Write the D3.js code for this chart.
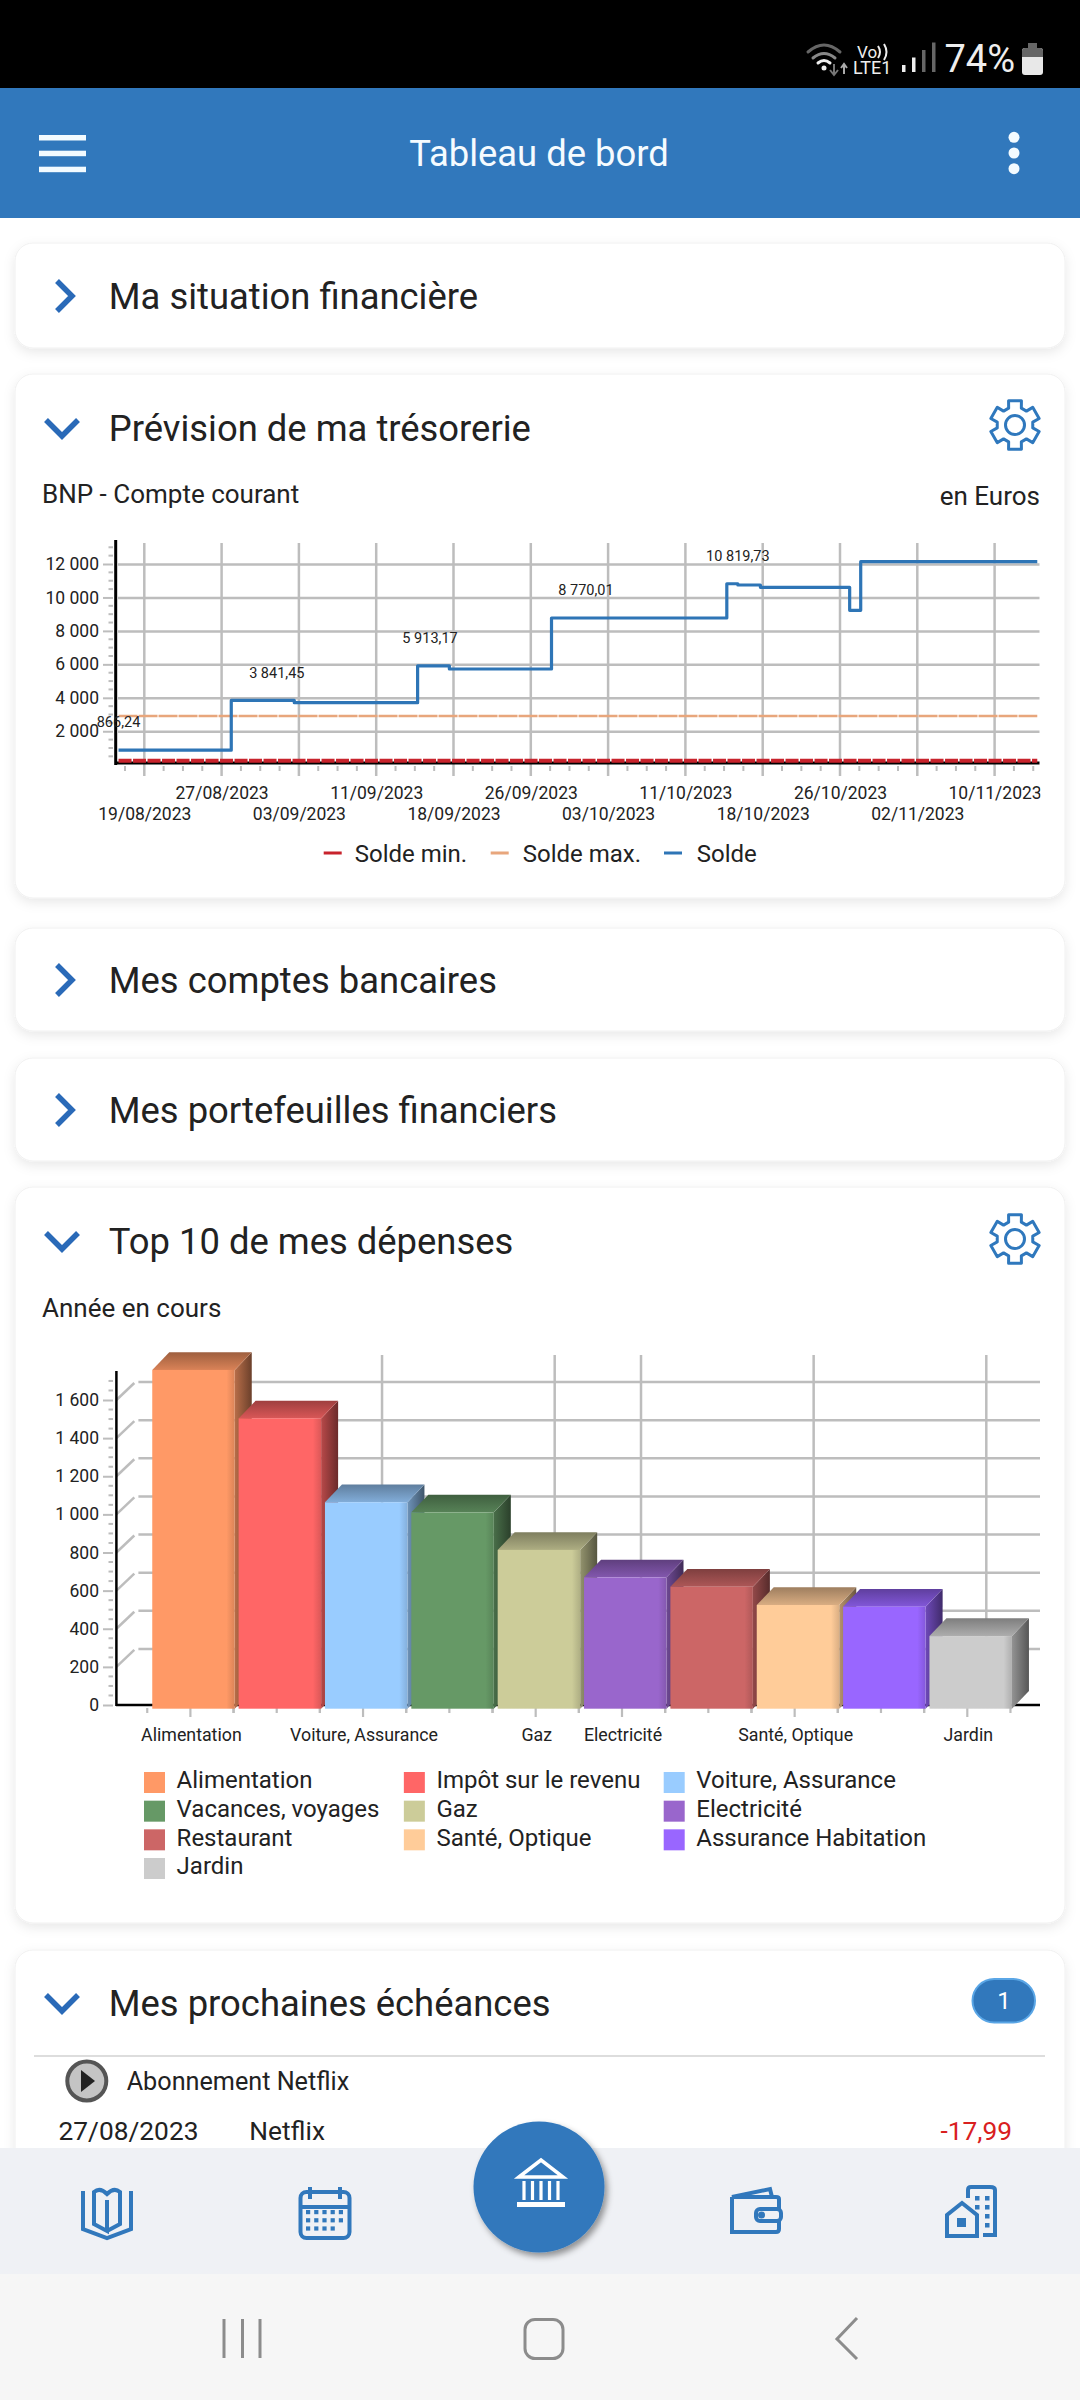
<!DOCTYPE html>
<html>
<head>
<meta charset="utf-8">
<script src="https://cdn.jsdelivr.net/npm/d3@7"></script>
<style>
  body { margin: 0; background: #fff; }
  svg { display: block; }
  text { font-family: Roboto, sans-serif; fill: #222; }
</style>
</head>
<body>
<svg id="chart" width="1080" height="2400"></svg>
<script>
// Prévision de ma trésorerie
const dateTicks = ["19/08/2023", "27/08/2023", "03/09/2023", "11/09/2023", "18/09/2023", "26/09/2023", "03/10/2023", "11/10/2023", "18/10/2023", "26/10/2023", "02/11/2023", "10/11/2023"]
const soldeTicks = [2000, 4000, 6000, 8000, 10000, 12000]
const soldeDates = ["16/08/2023 08", "27/08/2023 21", "02/09/2023 14", "14/09/2023 18", "17/09/2023 15", "27/09/2023 21", "14/10/2023 18", "15/10/2023 18", "17/10/2023 19", "26/10/2023 21", "27/10/2023 21", "14/11/2023 10"]
const soldeValues = [866.24, 3841.45, 3707, 5913.17, 5722, 8770.01, 10819.73, 10745, 10607, 9232, 12137, 12137]
const soldeMinValue = 240
const soldeMaxValue = 2912
const labelDates = ["16/08/2023 08", "01/09/2023 00", "15/09/2023 21", "01/10/2023 00", "15/10/2023 18"]
const labelValues = [866.24, 3841.45, 5913.17, 8770.01, 10819.73]
const lineNames = ["Solde min.", "Solde max.", "Solde"]
const lineColors = ["#c8232c", "#e8a67c", "#2e75b6"]

// Top 10 de mes dépenses
const categories = ["Alimentation", "Impôt sur le revenu", "Voiture, Assurance", "Vacances, voyages", "Gaz", "Electricité", "Restaurant", "Santé, Optique", "Assurance Habitation", "Jardin"]
const depenses = [1777, 1523, 1083, 1030, 833, 689, 640, 544, 535, 381]
const barColors = ["#ff9966", "#ff6666", "#99ccff", "#669966", "#cccc99", "#9966cc", "#cc6666", "#ffcc99", "#9966ff", "#cccccc"]
const depenseTicks = [0, 200, 400, 600, 800, 1000, 1200, 1400, 1600]
const shownCategories = ["Alimentation", "Voiture, Assurance", "Gaz", "Electricité", "Santé, Optique", "Jardin"]

const blue = "#3178bc"
const gridColor = "#bdbdbd"
const svg = d3.select("#chart")
const defs = svg.append("defs")
const locale = d3.formatLocale({ decimal: ",", thousands: " ", grouping: [3], currency: ["", ""] })
const parseDay = d3.timeParse("%d/%m/%Y")
const parseHour = d3.timeParse("%d/%m/%Y %H")
const formatDay = d3.timeFormat("%d/%m/%Y")

const shadow = defs.append("filter").attr("id", "shadow").attr("x", "-5%").attr("y", "-20%").attr("width", "110%").attr("height", "140%")
shadow.append("feDropShadow").attr("dx", 0).attr("dy", 4).attr("stdDeviation", 6).attr("flood-color", "#000").attr("flood-opacity", 0.09)
const fabShadow = defs.append("filter").attr("id", "fabShadow").attr("x", "-20%").attr("y", "-20%").attr("width", "140%").attr("height", "140%")
fabShadow.append("feDropShadow").attr("dx", 3).attr("dy", 4).attr("stdDeviation", 3).attr("flood-color", "#000").attr("flood-opacity", 0.4)

function label(parent, x, y, str, size, opts = {}) {
  return parent.append("text")
    .attr("x", x).attr("y", y)
    .attr("dy", "0.35em")
    .attr("text-anchor", opts.anchor || "start")
    .style("font-size", size + "px")
    .style("fill", opts.fill || "#222")
    .text(str)
}

// status bar + header
svg.append("rect").attr("width", 1080).attr("height", 88).attr("fill", "#000")
svg.append("rect").attr("y", 88).attr("width", 1080).attr("height", 130).attr("fill", blue)
label(svg, 1015, 59, "74%", 38, { anchor: "end", fill: "#eee" })
svg.append("rect").attr("x", 1022).attr("y", 48).attr("width", 21).attr("height", 27).attr("rx", 3).attr("fill", "#e8e8e8")
svg.append("path").attr("d", "M1022 57v-6q0-3 3-3h3v-5h9v5h3q3 0 3 3v6z").attr("fill", "#666")
label(svg, 853, 68, "LTE1", 18, { fill: "#eee" })
label(svg, 857, 52, "Vo", 17, { fill: "#eee" })
svg.append("path").attr("d", "M878 46q4 6 0 12M884 44q5 8 0 16").attr("fill", "none").attr("stroke", "#eee").attr("stroke-width", 2)
d3.range(4).forEach((i) => {
  svg.append("rect").attr("x", 902 + i * 10).attr("y", 72 - 7 - i * 7.5).attr("width", 3.5).attr("height", 7 + i * 7.5)
    .attr("fill", i < 2 ? "#eee" : "#666")
})
const wifi = svg.append("g").attr("fill", "none").attr("stroke-linecap", "round")
wifi.append("path").attr("d", "M808 52q16-14 32 0").attr("stroke", "#666").attr("stroke-width", 3)
wifi.append("path").attr("d", "M813 58q11-9 22 0").attr("stroke", "#888").attr("stroke-width", 3)
wifi.append("path").attr("d", "M818 63q6-5 12 0").attr("stroke", "#eee").attr("stroke-width", 3)
svg.append("circle").attr("cx", 824).attr("cy", 68).attr("r", 2.5).attr("fill", "#eee")
svg.append("path").attr("d", "M834 64v10M830 70l4 5 4-5").attr("fill", "none").attr("stroke", "#777").attr("stroke-width", 2)
svg.append("path").attr("d", "M844 74v-10M841 68l3-4 3 4").attr("fill", "none").attr("stroke", "#aaa").attr("stroke-width", 2)

;[135, 150.7, 166.7].forEach((y) => {
  svg.append("rect").attr("x", 39).attr("y", y).attr("width", 47).attr("height", 5.5).attr("fill", "#f3fbff")
})
;[137.3, 153, 168.7].forEach((y) => {
  svg.append("circle").attr("cx", 1014).attr("cy", y).attr("r", 5.5).attr("fill", "#f3fbff")
})
label(svg, 539, 153, "Tableau de bord", 36.4, { anchor: "middle", fill: "#f5fbff" })

// cards
const cardRects = [[243, 105], [374, 524], [928, 103], [1058, 103], [1187, 736], [1950, 300]]
svg.selectAll("rect.card").data(cardRects).enter().append("rect")
  .attr("class", "card")
  .attr("x", 15).attr("width", 1050)
  .attr("y", (d) => d[0]).attr("height", (d) => d[1])
  .attr("rx", 18)
  .attr("fill", "#fff").attr("stroke", "#f0f0f0")
  .attr("filter", "url(#shadow)")

function chevron(y, open) {
  const d = open ? `M46 ${y - 8}L62 ${y + 8}L78 ${y - 8}` : `M57 ${y - 15}L72 ${y}L57 ${y + 15}`
  svg.append("path").attr("d", d).attr("fill", "none").attr("stroke", "#2a6ab8").attr("stroke-width", 5.5)
}
;[[296, "Ma situation financière", false], [428, "Prévision de ma trésorerie", true], [980, "Mes comptes bancaires", false], [1110, "Mes portefeuilles financiers", false], [1241, "Top 10 de mes dépenses", true], [2003, "Mes prochaines échéances", true]].forEach((c) => {
  chevron(c[0], c[2])
  label(svg, 108.8, c[0], c[1], 36.4)
})

function gear(cx, cy) {
  const g = svg.append("g").attr("transform", `translate(${cx},${cy})`)
  const pts = []
  d3.range(6).forEach((i) => {
    const a = (i * Math.PI) / 3
    ;[[-0.36, 18], [-0.26, 25], [0.26, 25], [0.36, 18]].forEach((p) => pts.push([a + p[0], p[1]]))
  })
  g.append("path").attr("d", d3.lineRadial().curve(d3.curveLinearClosed)(pts))
    .attr("fill", "none").attr("stroke", "#2f78bd").attr("stroke-width", 3).attr("stroke-linejoin", "round")
  g.append("circle").attr("r", 9.5).attr("fill", "none").attr("stroke", "#2f78bd").attr("stroke-width", 3)
}
gear(1015, 425)
gear(1015, 1239)

label(svg, 42, 494, "BNP - Compte courant", 26)
label(svg, 1040, 496, "en Euros", 26, { anchor: "end" })
label(svg, 42, 1308, "Année en cours", 26)

// trésorerie chart
const tickDays = dateTicks.map(parseDay)
const tickStep = (994.6 - 144.3) / (tickDays.length - 1)
const x1 = d3.scaleTime().domain(tickDays).range(tickDays.map((d, i) => 144.3 + i * tickStep))
const y1 = d3.scaleLinear().domain([0, 12000]).range([764.7, 564])
const chart1 = svg.append("g")
const plot1Left = 118
const plot1Right = 1039.5
const plot1Bottom = 763

chart1.append("g")
  .attr("transform", `translate(${plot1Left},0)`)
  .call(d3.axisLeft(y1).tickValues(soldeTicks).tickSize(plot1Left - plot1Right).tickFormat(""))
  .call((g) => g.select(".domain").remove())
  .selectAll("line").attr("stroke", gridColor).attr("stroke-width", 2.5)

const gridX1 = chart1.append("g").attr("stroke", gridColor).attr("stroke-width", 2.5)
gridX1.selectAll("line").data(tickDays).enter().append("line")
  .attr("x1", (d) => x1(d)).attr("x2", (d) => x1(d))
  .attr("y1", 543).attr("y2", 776)

// minor ticks
chart1.append("g").attr("stroke", gridColor).attr("stroke-width", 2)
  .selectAll("line").data(d3.range(-1, 47).map((k) => 144.3 + (k * tickStep) / 4).filter((v, i) => (i - 1) % 4 !== 0))
  .enter().append("line")
  .attr("x1", (d) => d).attr("x2", (d) => d)
  .attr("y1", 766).attr("y2", 771)
chart1.append("g").attr("stroke", gridColor).attr("stroke-width", 2)
  .selectAll("line").data(d3.range(500, 13500, 500).filter((v) => v % 2000 !== 0))
  .enter().append("line")
  .attr("x1", 108.5).attr("x2", 113)
  .attr("y1", (d) => y1(d)).attr("y2", (d) => y1(d))

const yAxis1 = chart1.append("g")
  .attr("transform", "translate(113,0)")
  .call(d3.axisLeft(y1).tickValues(soldeTicks).tickSize(10).tickPadding(4).tickFormat(locale.format(",d")))
yAxis1.select(".domain").remove()
yAxis1.selectAll("line").attr("stroke", gridColor).attr("stroke-width", 2)
yAxis1.selectAll("text").style("font-size", "17.5px")

defs.append("clipPath").attr("id", "clipAxis").append("rect").attr("x", -200).attr("y", -10).attr("width", plot1Right + 201).attr("height", 80)
;[1, 0].forEach((row) => {
  const a = chart1.append("g")
    .attr("transform", `translate(0,${plot1Bottom})`)
    .call(d3.axisBottom(x1).tickValues(tickDays.filter((d, i) => i % 2 === row)).tickSize(0).tickPadding(row ? 23.5 : 44.5).tickFormat(formatDay))
  a.select(".domain").remove()
  a.selectAll("text").style("font-size", "17.5px")
  a.attr("clip-path", "url(#clipAxis)")
})

const soldeLine = d3.line().x((d) => x1(d[0])).y((d) => y1(d[1])).curve(d3.curveStepAfter)
const soldePoints = soldeDates.map((d, i) => [parseHour(d), soldeValues[i]])
const firstDay = soldePoints[0][0]
const lastDay = soldePoints[soldePoints.length - 1][0]
chart1.append("path").attr("d", soldeLine([[firstDay, soldeMaxValue], [lastDay, soldeMaxValue]]))
  .attr("fill", "none").attr("stroke", lineColors[1]).attr("stroke-width", 2.4).attr("stroke-dasharray", "19 1")
chart1.append("path").attr("d", soldeLine(soldePoints))
  .attr("fill", "none").attr("stroke", lineColors[2]).attr("stroke-width", 3.2).attr("stroke-linejoin", "round")

chart1.append("line").attr("x1", 115.7).attr("x2", 115.7).attr("y1", 540).attr("y2", 765).attr("stroke", "#000").attr("stroke-width", 3)
chart1.append("line").attr("x1", 115).attr("x2", plot1Right).attr("y1", plot1Bottom).attr("y2", plot1Bottom).attr("stroke", "#000").attr("stroke-width", 3)
chart1.append("path").attr("d", soldeLine([[firstDay, soldeMinValue], [lastDay, soldeMinValue]]))
  .attr("fill", "none").attr("stroke", lineColors[0]).attr("stroke-width", 4).attr("stroke-dasharray", "13 1.5")

chart1.selectAll("text.value").data(labelValues).enter().append("text")
  .attr("class", "value")
  .attr("x", (d, i) => x1(parseHour(labelDates[i])))
  .attr("y", (d) => y1(d) - 28)
  .attr("dy", "0.35em")
  .attr("text-anchor", "middle")
  .style("font-size", "14.5px")
  .text((d) => locale.format(",.2f")(d))

const legend1 = chart1.append("g")
const legend1Swatch = [323.7, 490.7, 664]
const legend1Text = [354.7, 522.7, 696.7]
lineNames.forEach((name, i) => {
  legend1.append("rect").attr("x", legend1Swatch[i]).attr("y", 851.5).attr("width", 18).attr("height", 3).attr("fill", lineColors[i])
  label(legend1, legend1Text[i], 853.5, name, 24)
})

// dépenses chart
const y2 = d3.scaleLinear().domain([0, 1600]).range([1705, 1400])
const xTick = d3.scalePoint().domain(categories).range([190.4, 967.3])
const xBar = d3.scalePoint().domain(categories).range([193.5, 970.7])
const barWidth = 82.5
const depthX = 17
const depthY = 17.7
const baseShift = 3.7
const chart2 = svg.append("g")
const plot2Right = 1040
const wallX = 22
const wallY = 18

chart2.append("g").attr("stroke", gridColor).attr("stroke-width", 2.5)
  .selectAll("line").data(shownCategories).enter().append("line")
  .attr("x1", (d) => xTick(d) + 19).attr("x2", (d) => xTick(d) + 19)
  .attr("y1", 1355).attr("y2", 1687)

const wall = chart2.append("g").attr("stroke", gridColor).attr("stroke-width", 2.5).attr("fill", "none")
wall.selectAll("line").data(depenseTicks.slice(1)).enter().append("line")
  .attr("x1", 116.4 + wallX).attr("x2", plot2Right)
  .attr("y1", (d) => y2(d) - wallY).attr("y2", (d) => y2(d) - wallY)
wall.selectAll("path").data(depenseTicks.slice(1)).enter().append("path")
  .attr("d", (d) => `M116.4 ${y2(d)}L134.3 ${y2(d) - wallY + 1}`)

chart2.append("g").attr("stroke", gridColor).attr("stroke-width", 2)
  .selectAll("line").data(d3.range(50, 1750, 50).filter((v) => v % 200 !== 0))
  .enter().append("line")
  .attr("x1", 108.5).attr("x2", 113)
  .attr("y1", (d) => y2(d)).attr("y2", (d) => y2(d))

const yAxis2 = chart2.append("g")
  .attr("transform", "translate(113,0)")
  .call(d3.axisLeft(y2).tickValues(depenseTicks).tickSize(10).tickPadding(4).tickFormat(locale.format(",d")))
yAxis2.select(".domain").remove()
yAxis2.selectAll("line").attr("stroke", gridColor).attr("stroke-width", 2)
yAxis2.selectAll("text").style("font-size", "17.5px")

chart2.append("line").attr("x1", 116.4).attr("x2", 116.4).attr("y1", 1371).attr("y2", 1706).attr("stroke", "#000").attr("stroke-width", 2.5)
chart2.append("line").attr("x1", 116).attr("x2", plot2Right).attr("y1", 1705).attr("y2", 1705).attr("stroke", "#000").attr("stroke-width", 2.5)

// x ticks under the bars
const xTickStep = xTick.step()
chart2.append("g").attr("stroke", gridColor).attr("stroke-width", 2.2)
  .selectAll("line").data(categories.flatMap((c) => [xTick(c) - xTickStep / 2, xTick(c) + xTickStep / 2]))
  .enter().append("line")
  .attr("x1", (d) => d).attr("x2", (d) => d).attr("y1", 1708).attr("y2", 1713)
chart2.append("g").attr("stroke", gridColor).attr("stroke-width", 2.2)
  .selectAll("line").data(categories)
  .enter().append("line")
  .attr("x1", (d) => xTick(d)).attr("x2", (d) => xTick(d)).attr("y1", 1708)
  .attr("y2", (d) => (shownCategories.includes(d) ? 1717 : 1713))

function scaleColor(c, k) {
  const r = d3.rgb(c)
  return d3.rgb(r.r * k, r.g * k, r.b * k).formatHex()
}
barColors.forEach((c, i) => {
  const front = defs.append("linearGradient").attr("id", "front" + i)
  front.append("stop").attr("offset", "90%").attr("stop-color", c)
  front.append("stop").attr("offset", "100%").attr("stop-color", scaleColor(c, 0.86))
  const side = defs.append("linearGradient").attr("id", "side" + i)
  side.append("stop").attr("offset", "0%").attr("stop-color", scaleColor(c, 0.72))
  side.append("stop").attr("offset", "100%").attr("stop-color", scaleColor(c, 0.42))
  const top = defs.append("linearGradient").attr("id", "top" + i).attr("x2", 0).attr("y2", 1)
  top.append("stop").attr("offset", "0%").attr("stop-color", scaleColor(c, 0.62))
  top.append("stop").attr("offset", "100%").attr("stop-color", scaleColor(c, 0.85))
})

const bars = chart2.selectAll("g.bar").data(categories).enter().append("g").attr("class", "bar")
const barTop = (i) => y2(depenses[i]) + baseShift
const barBase = y2(0) + baseShift
bars.append("path")
  .attr("d", (d, i) => {
    const r = xBar(d) + barWidth / 2
    return `M${r} ${barTop(i)}L${r + depthX} ${barTop(i) - depthY}V${barBase - depthY}L${r} ${barBase}Z`
  })
  .attr("fill", (d, i) => `url(#side${i})`)
bars.append("path")
  .attr("d", (d, i) => {
    const l = xBar(d) - barWidth / 2
    const r = xBar(d) + barWidth / 2
    return `M${l} ${barTop(i)}L${l + depthX} ${barTop(i) - depthY}H${r + depthX}L${r} ${barTop(i)}Z`
  })
  .attr("fill", (d, i) => `url(#top${i})`)
bars.append("rect")
  .attr("x", (d) => xBar(d) - barWidth / 2)
  .attr("y", (d, i) => barTop(i))
  .attr("width", barWidth)
  .attr("height", (d, i) => barBase - barTop(i))
  .attr("fill", (d, i) => `url(#front${i})`)

shownCategories.forEach((c) => {
  label(chart2, xTick(c) + 1, 1735, c, 17.8, { anchor: "middle" })
})

const legendX = d3.scalePoint().domain([0, 1, 2]).range([144, 663.7])
const legendY = d3.scaleLinear().domain([0, 3]).range([1782.5, 1868.5])
categories.forEach((c, i) => {
  const sx = legendX(i % 3)
  const sy = legendY(Math.floor(i / 3))
  chart2.append("rect").attr("x", sx).attr("y", sy - 10.5).attr("width", 21).attr("height", 21).attr("fill", barColors[i])
  label(chart2, sx + 32.6, sy - 2.5, c, 24)
})

// échéances
svg.append("rect").attr("x", 972.5).attr("y", 1979).attr("width", 62.5).attr("height", 43.5).attr("rx", 21.7)
  .attr("fill", blue).attr("stroke", "#5aa6e6").attr("stroke-width", 2)
label(svg, 1004, 2001, "1", 24, { anchor: "middle", fill: "#fff" })
svg.append("line").attr("x1", 34).attr("x2", 1045).attr("y1", 2056).attr("y2", 2056).attr("stroke", "#ddd").attr("stroke-width", 2)
svg.append("circle").attr("cx", 86.8).attr("cy", 2081).attr("r", 19.5).attr("fill", "#c4c4c4").attr("stroke", "#555").attr("stroke-width", 4)
svg.append("path").attr("d", "M81 2070L95 2081L81 2092Z").attr("fill", "#222")
label(svg, 126.7, 2081, "Abonnement Netflix", 25.2)
label(svg, 58.5, 2131, "27/08/2023", 26.3)
label(svg, 249.3, 2131, "Netflix", 26.3)
label(svg, 1012, 2131, "-17,99", 26.3, { anchor: "end", fill: "#d9201f" })

// bottom navigation
svg.append("rect").attr("y", 2148).attr("width", 1080).attr("height", 126).attr("fill", "#eff1f5")
svg.append("rect").attr("y", 2274).attr("width", 1080).attr("height", 126).attr("fill", "#f6f6f6")
svg.append("circle").attr("cx", 539).attr("cy", 2187).attr("r", 65.5).attr("fill", blue).attr("filter", "url(#fabShadow)")

const icons = svg.append("g").attr("fill", "none").attr("stroke", blue).attr("stroke-width", 4)
// book
icons.append("path").attr("d", "M107 2200L107 2231L94 2224L94 2192Q100 2187 107 2194Q114 2187 120 2192L120 2224L107 2231")
icons.append("path").attr("d", "M83 2191V2229L107 2238L131 2229V2191")
// calendar
icons.append("rect").attr("x", 300.5).attr("y", 2192).attr("width", 49).attr("height", 46).attr("rx", 6)
icons.append("path").attr("d", "M300.5 2207H349.5M310 2187V2199M340 2187V2199")
icons.append("g").attr("fill", blue).attr("stroke", "none")
  .selectAll("rect").data(d3.range(14)).enter().append("rect")
  .attr("x", (d) => 306 + (d % 5) * 8.2).attr("y", (d) => 2210 + Math.floor(d / 5) * 8.2)
  .attr("width", 4.2).attr("height", 4.2)
// wallet
icons.append("path").attr("d", "M732 2197V2232H776Q779 2232 779 2229V2199Q779 2197 776 2197H732L770 2189L772 2197")
icons.append("rect").attr("x", 756).attr("y", 2209).attr("width", 25).attr("height", 12).attr("rx", 4).attr("fill", "#eff1f5")
icons.append("circle").attr("cx", 761.5).attr("cy", 2215).attr("r", 1.5).attr("fill", blue)
// buildings
icons.append("path").attr("d", "M968 2198V2190Q968 2187 971 2187H990Q995 2187 995 2190V2235H983M947 2236V2215L962 2203L977 2215V2236Z")
icons.append("rect").attr("x", 957).attr("y", 2218).attr("width", 9).attr("height", 9).attr("fill", blue).attr("stroke", "none")
icons.append("g").attr("fill", blue).attr("stroke", "none")
  .selectAll("rect").data([[975, 2196], [985, 2196], [975, 2205], [985, 2205], [985, 2214], [985, 2223]]).enter().append("rect")
  .attr("x", (d) => d[0]).attr("y", (d) => d[1]).attr("width", 4.5).attr("height", 4.5)

// bank
const bank = svg.append("g").attr("fill", "none").attr("stroke", "#fff")
bank.append("path").attr("d", "M519 2177L541 2160L563 2177Z").attr("stroke-width", 3.5)
bank.append("path").attr("d", "M524 2181V2200M532.5 2181V2200M541 2181V2200M549.5 2181V2200M558 2181V2200").attr("stroke-width", 3.2)
bank.append("path").attr("d", "M517 2204.5H565").attr("stroke-width", 5)

// android nav
const nav = svg.append("g").attr("fill", "none").attr("stroke", "#8c8c8c").attr("stroke-width", 3)
nav.append("path").attr("d", "M224 2319V2358M242.5 2319V2358M260 2319V2358")
nav.append("rect").attr("x", 525).attr("y", 2319.5).attr("width", 38).attr("height", 39).attr("rx", 10)
nav.append("path").attr("d", "M857 2318L837 2339L857 2359")
</script>
</body>
</html>
